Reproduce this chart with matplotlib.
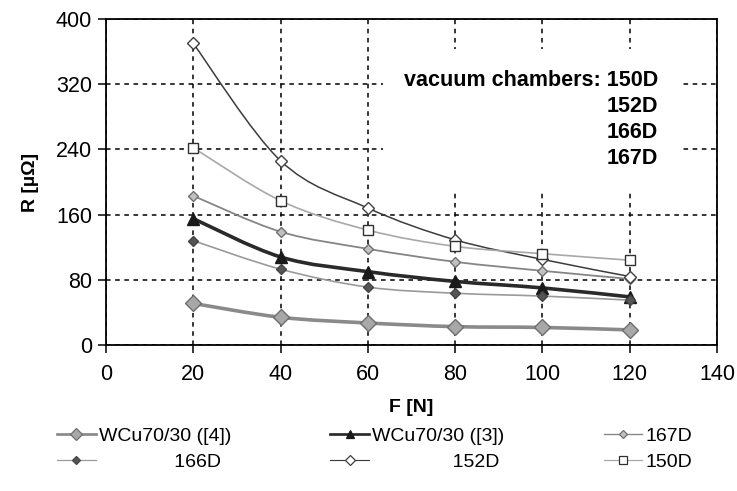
import numpy as np
import matplotlib
matplotlib.use("Agg")
import matplotlib.pyplot as plt
from matplotlib.path import Path
from matplotlib.patches import PathPatch
from matplotlib.lines import Line2D

plt.rcParams['font.family'] = ['Liberation Sans', 'DejaVu Sans']

# contact force [N] and resistance [uOhm]
force = [20, 40, 60, 80, 100, 120]
r_wcu_4 = [51, 34, 27, 22.5, 21.5, 18.5]
r_wcu_3 = [155, 108, 90, 78, 70, 59]
r_167d = [183, 139, 118, 102, 91, 81]
r_166d = [128, 93, 71, 63.5, 60, 55]
r_152d = [370, 226, 168, 129, 105, 84]
r_150d = [242, 177, 141, 121, 112, 104]

labels = ["WCu70/30 ([4])", "WCu70/30 ([3])", "167D",
          "              166D", "               152D", "150D"]


def smooth_path(x, y):
    # Bezier segments through the points (spreadsheet-style smoothed line)
    x = np.asarray(x, float)
    y = np.asarray(y, float)
    pts = np.column_stack([x, y])
    n = len(pts)
    verts = [pts[0]]
    codes = [Path.MOVETO]
    for i in range(n - 1):
        p0 = pts[i - 1] if i > 0 else pts[i]
        p1 = pts[i]
        p2 = pts[i + 1]
        p3 = pts[i + 2] if i + 2 < n else pts[i + 1]
        c1 = p1 + (p2 - p0) / 6.0
        c2 = p2 - (p3 - p1) / 6.0
        verts += [c1, c2, p2]
        codes += [Path.CURVE4] * 3
    return Path(verts, codes)


fig = plt.figure(figsize=(7.37, 4.91), dpi=100)
ax = fig.add_axes([0.1438, 0.2974, 0.8292, 0.6639])

series = [
    # values, line colour, line width, marker, marker size, face, edge
    (r_wcu_4, "#8a8a8a", 2.6, "D", 8, "#a8a8a8", "#6e6e6e"),
    (r_wcu_3, "#2a2a2a", 2.6, "^", 8, "#1a1a1a", "#1a1a1a"),
    (r_167d, "#858585", 1.3, "D", 5.5, "#c0c0c0", "#707070"),
    (r_166d, "#9a9a9a", 1.2, "D", 5.5, "#555555", "#444444"),
    (r_152d, "#3c3c3c", 1.1, "D", 6, "white", "#404040"),
    (r_150d, "#a8a8a8", 1.2, "s", 6.5, "white", "#303030"),
]

handles = []
for vals, lc, lw, mk, ms, fc, ec in series:
    ax.add_patch(PathPatch(smooth_path(force, vals), fill=False,
                           edgecolor=lc, linewidth=lw, zorder=3))
    ax.plot(force, vals, linestyle="none", marker=mk, markersize=ms,
            markerfacecolor=fc, markeredgecolor=ec, markeredgewidth=1.0,
            zorder=4)
    handles.append(Line2D([], [], color=lc, linewidth=lw * 0.75, marker=mk,
                          markersize=ms * 0.8, markerfacecolor=fc,
                          markeredgecolor=ec, markeredgewidth=0.9))

ax.set_xlim(0, 140)
ax.set_ylim(0, 400)
ax.set_xticks(np.arange(0, 141, 20))
ax.set_yticks(np.arange(0, 401, 80))
ax.grid(True, color="black", linestyle=(0, (3, 3)), linewidth=1.1)
ax.set_axisbelow(True)
ax.tick_params(direction="out", length=6, width=1.1, labelsize=15.5,
               colors="black")
ax.tick_params(axis="x", pad=8)
ax.tick_params(axis="y", pad=4)
for sp in ax.spines.values():
    sp.set_linewidth(1.3)
    sp.set_color("black")

ax.set_xlabel("F [N]", fontsize=14, fontweight="bold", labelpad=10)
ax.set_ylabel("R [µΩ]", fontsize=14, fontweight="bold", labelpad=12)

ax.text(126.5, 338, "vacuum chambers: 150D\n152D\n166D\n167D",
        ha="right", va="top", multialignment="right", fontsize=15.5,
        fontweight="bold", linespacing=1.33, zorder=2,
        bbox=dict(facecolor="white", edgecolor="none", pad=15))

# row-wise legend order: matplotlib fills columns first
order = [0, 3, 1, 4, 2, 5]
fig.legend([handles[i] for i in order], [labels[i] for i in order],
           ncol=3, loc="upper left", bbox_to_anchor=(57 / 737, 1 - 427 / 491),
           frameon=False, fontsize=14, borderpad=0, borderaxespad=0,
           handlelength=2.0, handletextpad=0.15, columnspacing=5.1,
           labelspacing=0.45)

fig.savefig("out.png", dpi=100)
